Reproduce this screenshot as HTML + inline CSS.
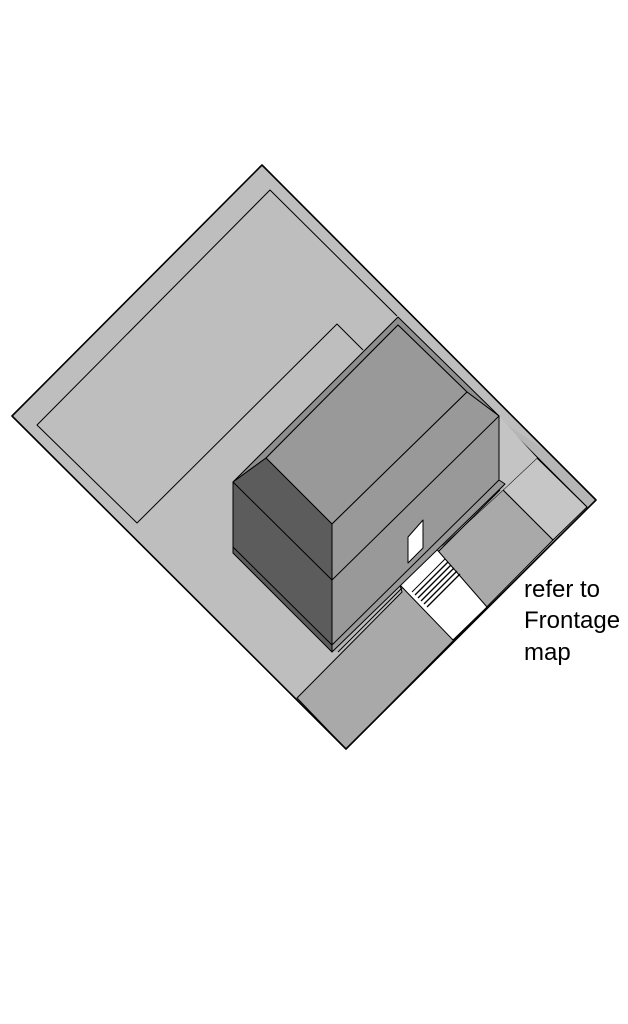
<!DOCTYPE html>
<html><head><meta charset="utf-8"><style>
html,body{margin:0;padding:0;background:#fff;width:628px;height:1024px;overflow:hidden}
svg{display:block}
text{font-family:"Liberation Sans",sans-serif;font-size:24px;fill:#000}
</style></head><body>
<svg width="628" height="1024" viewBox="0 0 628 1024" xmlns="http://www.w3.org/2000/svg">
<g stroke="#000" stroke-width="1" stroke-linejoin="round">
<!-- lot -->
<polygon points="262,165 596,500 346,749 12,416" fill="#bebebe" stroke="none"/>
<!-- inner rect -->
<polyline points="397,316 270,190 37,425 137,523 337,324 363,350" fill="none"/>
<!-- right strip -->
<polygon points="500,420 545,450 596,500 587,507" fill="#b6b6b6" stroke="none"/>
<line x1="500" y1="420" x2="587" y2="507"/>
<polygon points="537,458 587,507 553,540 503,490" fill="#c6c6c6"/>
<polygon points="499,416 537,458 503,490 499,486" fill="#c4c4c4" stroke="none"/>
<!-- front yard -->
<polygon points="297,698 402,592 400,585 433,547 443,545 503,490 553,540 346,749" fill="#a9a9a9"/>
<!-- base strip along building -->
<polygon points="332,652 505,484 503,490 443,545 433,547 400,579 338,652" fill="#b4b4b4" stroke="none"/>
<line x1="338" y1="652" x2="500" y2="490"/>
<!-- white stair/path -->
<polygon points="400,579 433,545 487,607 453,640 400,585" fill="#fff"/>
<line x1="412" y1="592" x2="445" y2="559"/>
<g stroke-width="1.3">
<line x1="415" y1="595" x2="448" y2="562"/>
<line x1="418" y1="598" x2="451" y2="565"/>
<line x1="421" y1="601" x2="454" y2="568"/>
<line x1="424" y1="604" x2="457" y2="571"/>
<line x1="427" y1="607" x2="460" y2="574"/>
</g>
<!-- building: roof eave strip -->
<polygon points="233,482 398,317 499,416 467,392 398,325 266,458" fill="#8f8f8f"/>
<polygon points="266,458 398,325 467,392 332,524" fill="#999"/>
<polygon points="332,524 467,392 499,416 499,480 505,484 332,652" fill="#999"/>
<line x1="332" y1="580" x2="499" y2="416"/>
<line x1="332" y1="645" x2="499" y2="480"/>
<polygon points="233,482 266,458 332,524 332,652 233,553" fill="#5c5c5c"/>
<line x1="233" y1="482" x2="332" y2="580"/>
<line x1="233" y1="547" x2="332" y2="645"/>
<line x1="332" y1="524" x2="332" y2="652"/>
<!-- door -->
<polygon points="408,537 423,520 423,548 408,563" fill="#fff"/>
<!-- lot outline on top -->
<polygon points="262,165 596,500 346,749 12,416" fill="none" stroke-width="1.6"/>
</g>
<text x="524" y="597">refer to</text>
<text x="524" y="628">Frontage</text>
<text x="524" y="660">map</text>
</svg>
</body></html>
